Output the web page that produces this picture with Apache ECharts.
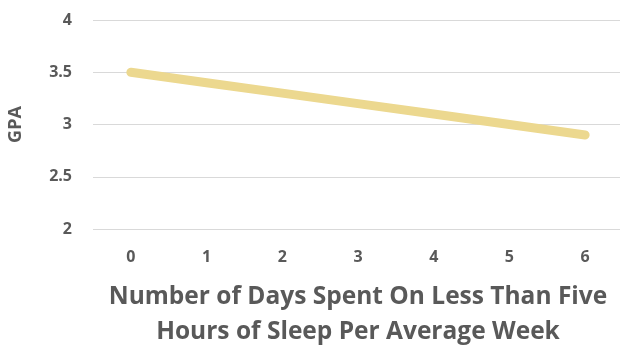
<!DOCTYPE html>
<html>
<head>
<meta charset="utf-8">
<script src="https://cdn.jsdelivr.net/npm/echarts@6/dist/echarts.min.js"></script>
<style>
  html, body { margin: 0; padding: 0; background: #fff; }
  #chart { width: 620px; height: 349px; }
</style>
</head>
<body>
<div id="chart"></div>
<script>
// Days per week with under five hours of sleep
const days = ['0', '1', '2', '3', '4', '5', '6'];
// Average GPA for each group
const gpa = [3.5, 3.4, 3.3, 3.2, 3.1, 3.0, 2.9];
// Y axis range
const yMin = 2;
const yMax = 4;
const yStep = 0.5;

const chart = echarts.init(document.getElementById('chart'));
const labelFont = '"Open Sans", Lato, sans-serif';
const textGrey = '#595959';

chart.setOption({
  animation: false,
  grid: { left: 93, top: 20, width: 530, height: 209, outerBoundsMode: 'none', containLabel: false },
  xAxis: {
    type: 'category',
    data: days,
    boundaryGap: true,
    axisLine: { show: false },
    axisTick: { show: false },
    axisLabel: { color: textGrey, fontSize: 16, fontWeight: 'bold', fontFamily: labelFont, margin: 20 },
    name: 'Number of Days Spent On Less Than Five\nHours of Sleep Per Average Week',
    nameLocation: 'middle',
    nameGap: 51,
    nameTextStyle: { color: textGrey, fontSize: 24.5, fontWeight: 'bold', fontFamily: labelFont, lineHeight: 35 }
  },
  yAxis: {
    type: 'value',
    min: yMin,
    max: yMax,
    interval: yStep,
    axisLine: { show: false },
    axisTick: { show: false },
    splitLine: { lineStyle: { color: '#d9d9d9', width: 1 } },
    axisLabel: { color: textGrey, fontSize: 16, fontWeight: 'bold', fontFamily: labelFont, margin: 21 },
    name: 'GPA',
    nameLocation: 'middle',
    nameRotate: 90,
    nameGap: 68,
    nameTextStyle: { color: textGrey, fontSize: 18, fontWeight: 'bold', fontFamily: labelFont }
  },
  series: [{
    type: 'line',
    data: gpa,
    symbol: 'none',
    lineStyle: { color: '#ecd88f', width: 9, cap: 'round' }
  }]
});
</script>
</body>
</html>
